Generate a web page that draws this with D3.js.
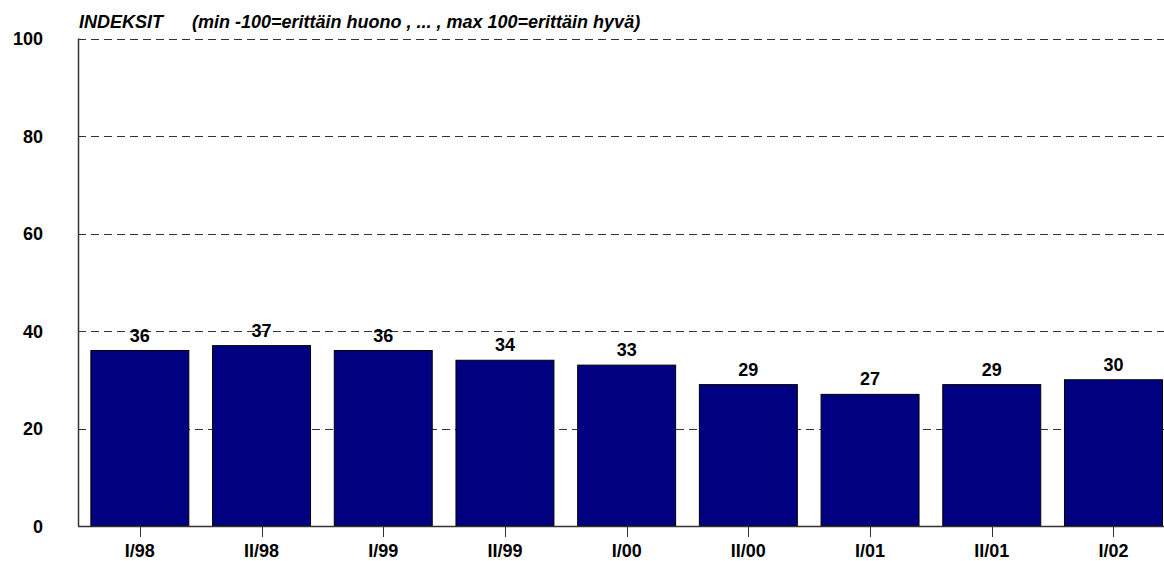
<!DOCTYPE html>
<html>
<head>
  <style>
    body { margin: 0; padding: 0; background: #fff; }
    svg { display: block; font-family: Arial, "Liberation Sans", sans-serif; }
  </style>
</head>
<body>
  <div id="chart"></div>
  <script src="https://d3js.org/d3.v7.min.js"></script>
  <script>
    var categories = ["I/98", "II/98", "I/99", "II/99", "I/00", "II/00", "I/01", "II/01", "I/02"];
    var values = [36, 37, 36, 34, 33, 29, 27, 29, 30];
    var yTicks = [0, 20, 40, 60, 80, 100];
    var titleMain = "INDEKSIT";
    var titleNote = "(min -100=erittäin huono , ... , max 100=erittäin hyvä)";

    var width = 1164, height = 561;
    var plotLeft = 78, plotTop = 38.5, plotBottom = 526;

    var svg = d3.select("#chart").append("svg")
      .attr("width", width)
      .attr("height", height);

    var x = d3.scaleBand()
      .domain(categories)
      .range([79, 79 + 9 * 121.7])
      .paddingInner(0.195)
      .paddingOuter(0.0975);

    var y = d3.scaleLinear()
      .domain([0, 100])
      .range([plotBottom, plotTop]);

    // gridlines
    svg.selectAll("line.grid")
      .data(yTicks.filter(function (d) { return d > 0; }))
      .enter()
      .append("line")
      .attr("class", "grid")
      .attr("x1", plotLeft)
      .attr("x2", width)
      .attr("y1", function (d) { return Math.round(y(d)) + 0.5; })
      .attr("y2", function (d) { return Math.round(y(d)) + 0.5; })
      .attr("stroke", "#333")
      .attr("stroke-width", 1)
      .attr("stroke-dasharray", "8,5");

    // y tick labels
    svg.selectAll("text.ylab")
      .data(yTicks)
      .enter()
      .append("text")
      .attr("class", "ylab")
      .attr("x", 43)
      .attr("y", function (d) { return y(d) + 6.5; })
      .attr("text-anchor", "end")
      .style("font-size", "18px")
      .style("font-weight", "bold")
      .text(function (d) { return d; });

    // bars
    svg.selectAll("rect.bar")
      .data(values)
      .enter()
      .append("rect")
      .attr("class", "bar")
      .attr("x", function (d, i) { return x(categories[i]); })
      .attr("y", function (d) { return y(d); })
      .attr("width", x.bandwidth())
      .attr("height", function (d) { return plotBottom - y(d); })
      .attr("fill", "#000080")
      .attr("stroke", "#000")
      .attr("stroke-width", 1);

    // value labels
    svg.selectAll("text.val")
      .data(values)
      .enter()
      .append("text")
      .attr("class", "val")
      .attr("x", function (d, i) { return x(categories[i]) + x.bandwidth() / 2; })
      .attr("y", function (d) { return y(d) - 9; })
      .attr("text-anchor", "middle")
      .style("font-size", "18px")
      .style("font-weight", "bold")
      .text(function (d) { return d; });

    // axes lines
    svg.append("line")
      .attr("x1", plotLeft + 0.5).attr("x2", plotLeft + 0.5)
      .attr("y1", plotTop).attr("y2", plotBottom)
      .attr("stroke", "#333").attr("stroke-width", 1.5);
    svg.append("line")
      .attr("x1", plotLeft).attr("x2", width)
      .attr("y1", plotBottom + 0.5).attr("y2", plotBottom + 0.5)
      .attr("stroke", "#333").attr("stroke-width", 1.5);

    // x ticks and labels
    svg.selectAll("line.xtick")
      .data(categories)
      .enter()
      .append("line")
      .attr("class", "xtick")
      .attr("x1", function (d) { return Math.round(x(d) + x.bandwidth() / 2) + 0.5; })
      .attr("x2", function (d) { return Math.round(x(d) + x.bandwidth() / 2) + 0.5; })
      .attr("y1", plotBottom)
      .attr("y2", plotBottom + 11)
      .attr("stroke", "#333");

    svg.selectAll("text.xlab")
      .data(categories)
      .enter()
      .append("text")
      .attr("class", "xlab")
      .attr("x", function (d) { return x(d) + x.bandwidth() / 2; })
      .attr("y", 557)
      .attr("text-anchor", "middle")
      .style("font-size", "18px")
      .style("font-weight", "bold")
      .text(function (d) { return d; });

    // title
    var titleG = svg.append("g")
      .style("font-size", "18px")
      .style("font-weight", "bold")
      .style("font-style", "italic");
    titleG.append("text").attr("x", 79).attr("y", 28).text(titleMain);
    titleG.append("text").attr("x", 192).attr("y", 28).text(titleNote);
  </script>
</body>
</html>
